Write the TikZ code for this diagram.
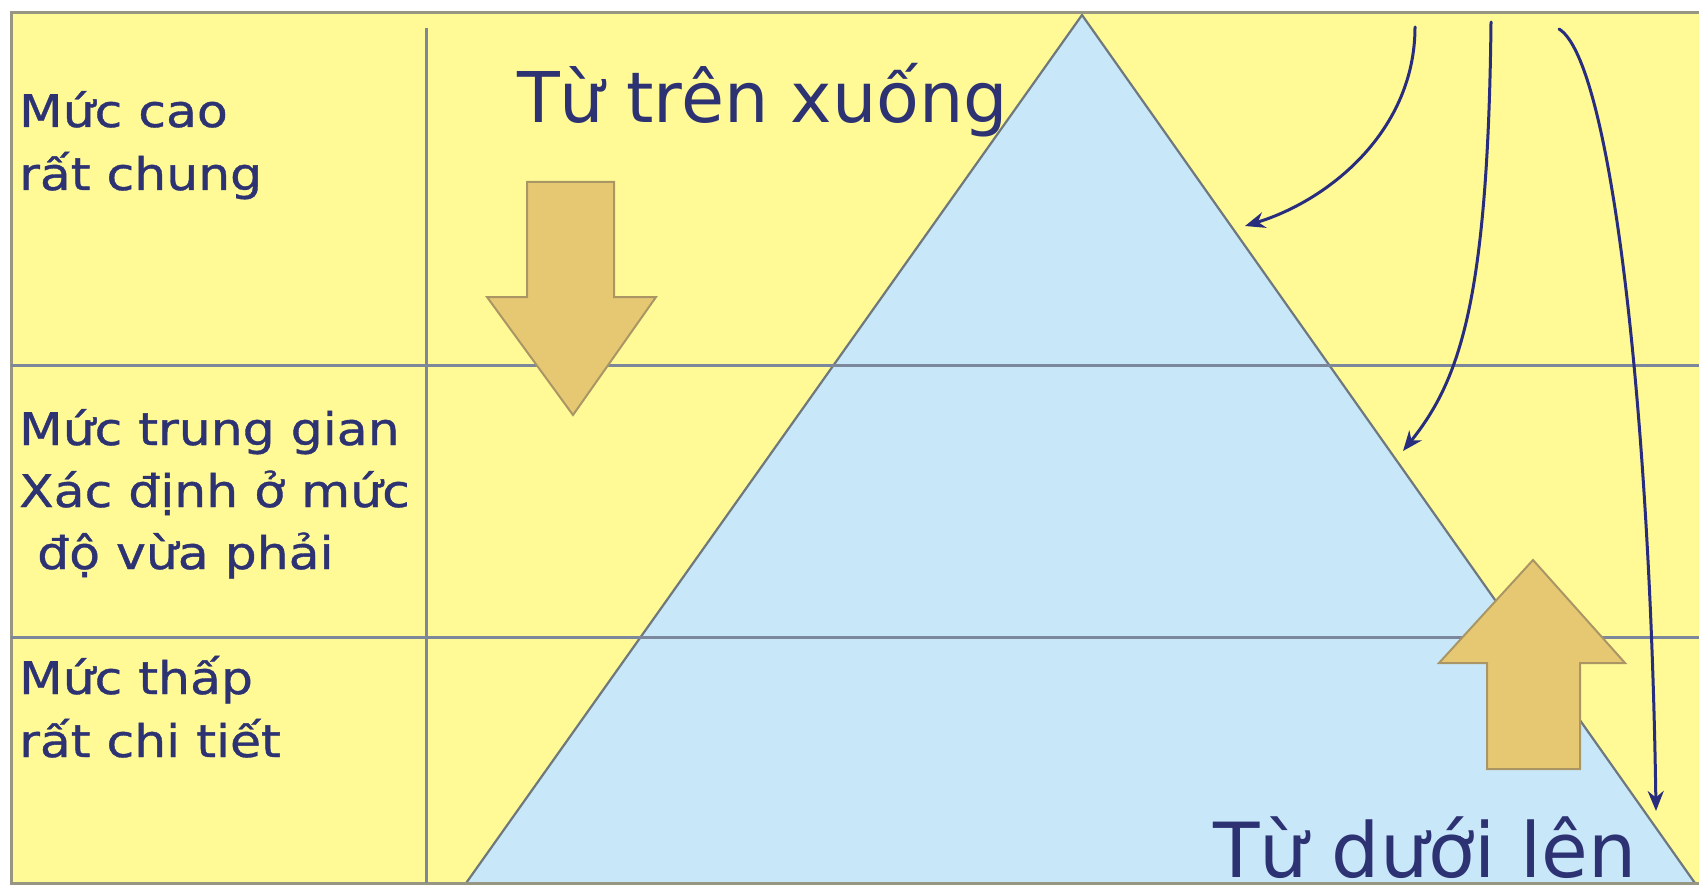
\documentclass[tikz,border=0pt]{standalone}
\usepackage{fontspec}
\setmainfont{DejaVu Sans}
\newfontfamily\lblfont{DejaVu Sans}[FakeBold=0.8]
\usetikzlibrary{arrows.meta}
\definecolor{bgyellow}{RGB}{255,250,150}
\definecolor{pyrblue}{RGB}{200,232,250}
\definecolor{tanfill}{RGB}{230,200,115}
\definecolor{tanedge}{RGB}{170,150,100}
\definecolor{gridc}{RGB}{125,135,155}
\definecolor{framec}{RGB}{150,150,130}
\definecolor{pyredge}{RGB}{110,120,125}
\definecolor{ink}{RGB}{45,50,115}
\definecolor{navyc}{RGB}{40,45,125}
\begin{document}
\begin{tikzpicture}[x=1pt,y=-1pt,
  gridline/.style={draw=gridc, line width=3pt},
  frameline/.style={draw=framec, line width=3pt},
  bigarrow/.style={fill=tanfill, draw=tanedge, line width=2pt, line join=miter},
  flow/.style={draw=navyc, line width=3pt, line cap=round, -{Stealth[length=20pt,width=16pt]}},
  lbl/.style={anchor=base west, inner sep=0pt, text=ink, font=\lblfont\fontsize{45}{54}\selectfont},
  headlbl/.style={anchor=base west, inner sep=0pt, text=ink}]
\useasboundingbox (0,0) rectangle (1699,885);
\fill[white] (0,0) rectangle (1699,885);
\fill[bgyellow] (11,13) rectangle (1699,883);
% pyramid
\fill[pyrblue] (1082,15) -- (464,886) -- (1697,886) -- cycle;
\draw[pyredge, line width=2.2pt] (464,886) -- (1082,15) -- (1697,886);
% frame
\draw[frameline] (1699,13) -- (11,13) -- (11,883) -- (1699,883);
% grid
\draw[gridline] (11,365) -- (1699,365);
\draw[gridline] (11,637) -- (1699,637);
\draw[gridline] (426,28) -- (426,883);
% big arrows
\draw[bigarrow] (527,182) -- (614,182) -- (614,297) -- (656,297) -- (573,415) -- (487,297) -- (527,297) -- cycle;
\draw[bigarrow] (1487,769) -- (1580,769) -- (1580,663) -- (1625,663) -- (1533,560) -- (1439,663) -- (1487,663) -- cycle;
% flow arrows
\coordinate (f1s) at (1415,27);
\coordinate (f1e) at (1245,226);
\coordinate (f2s) at (1491,22);
\coordinate (f2e) at (1403,451);
\coordinate (f3s) at (1559,29);
\coordinate (f3e) at (1656,811);
\draw[flow] (f1s) .. controls (1415,130) and (1330,200) .. (f1e);
\draw[flow] (f2s) .. controls (1488,300) and (1460,380) .. (f2e);
\draw[flow] (f3s) .. controls (1610,60) and (1650,400) .. (f3e);
% left labels
\node[lbl] (l1a) at (19,127) {\scalebox{1.12}[1]{Mức cao}};
\node[lbl] (l1b) at (19,190) {\scalebox{1.12}[1]{rất chung}};
\node[lbl] (l2a) at (19,445) {\scalebox{1.12}[1]{Mức trung gian}};
\node[lbl] (l2b) at (19,507) {\scalebox{1.12}[1]{Xác định ở mức}};
\node[lbl] (l2c) at (37,569) {\scalebox{1.12}[1]{độ vừa phải}};
\node[lbl] (l3a) at (19,694) {\scalebox{1.12}[1]{Mức thấp}};
\node[lbl] (l3b) at (19,757) {\scalebox{1.12}[1]{rất chi tiết}};
% titles
\node[headlbl, font=\fontsize{70}{84}\selectfont] (top) at (517,123) {Từ trên xuống};
\node[headlbl, font=\fontsize{76}{90}\selectfont] (bot) at (1213,877) {Từ dưới lên};
\end{tikzpicture}
\end{document}
